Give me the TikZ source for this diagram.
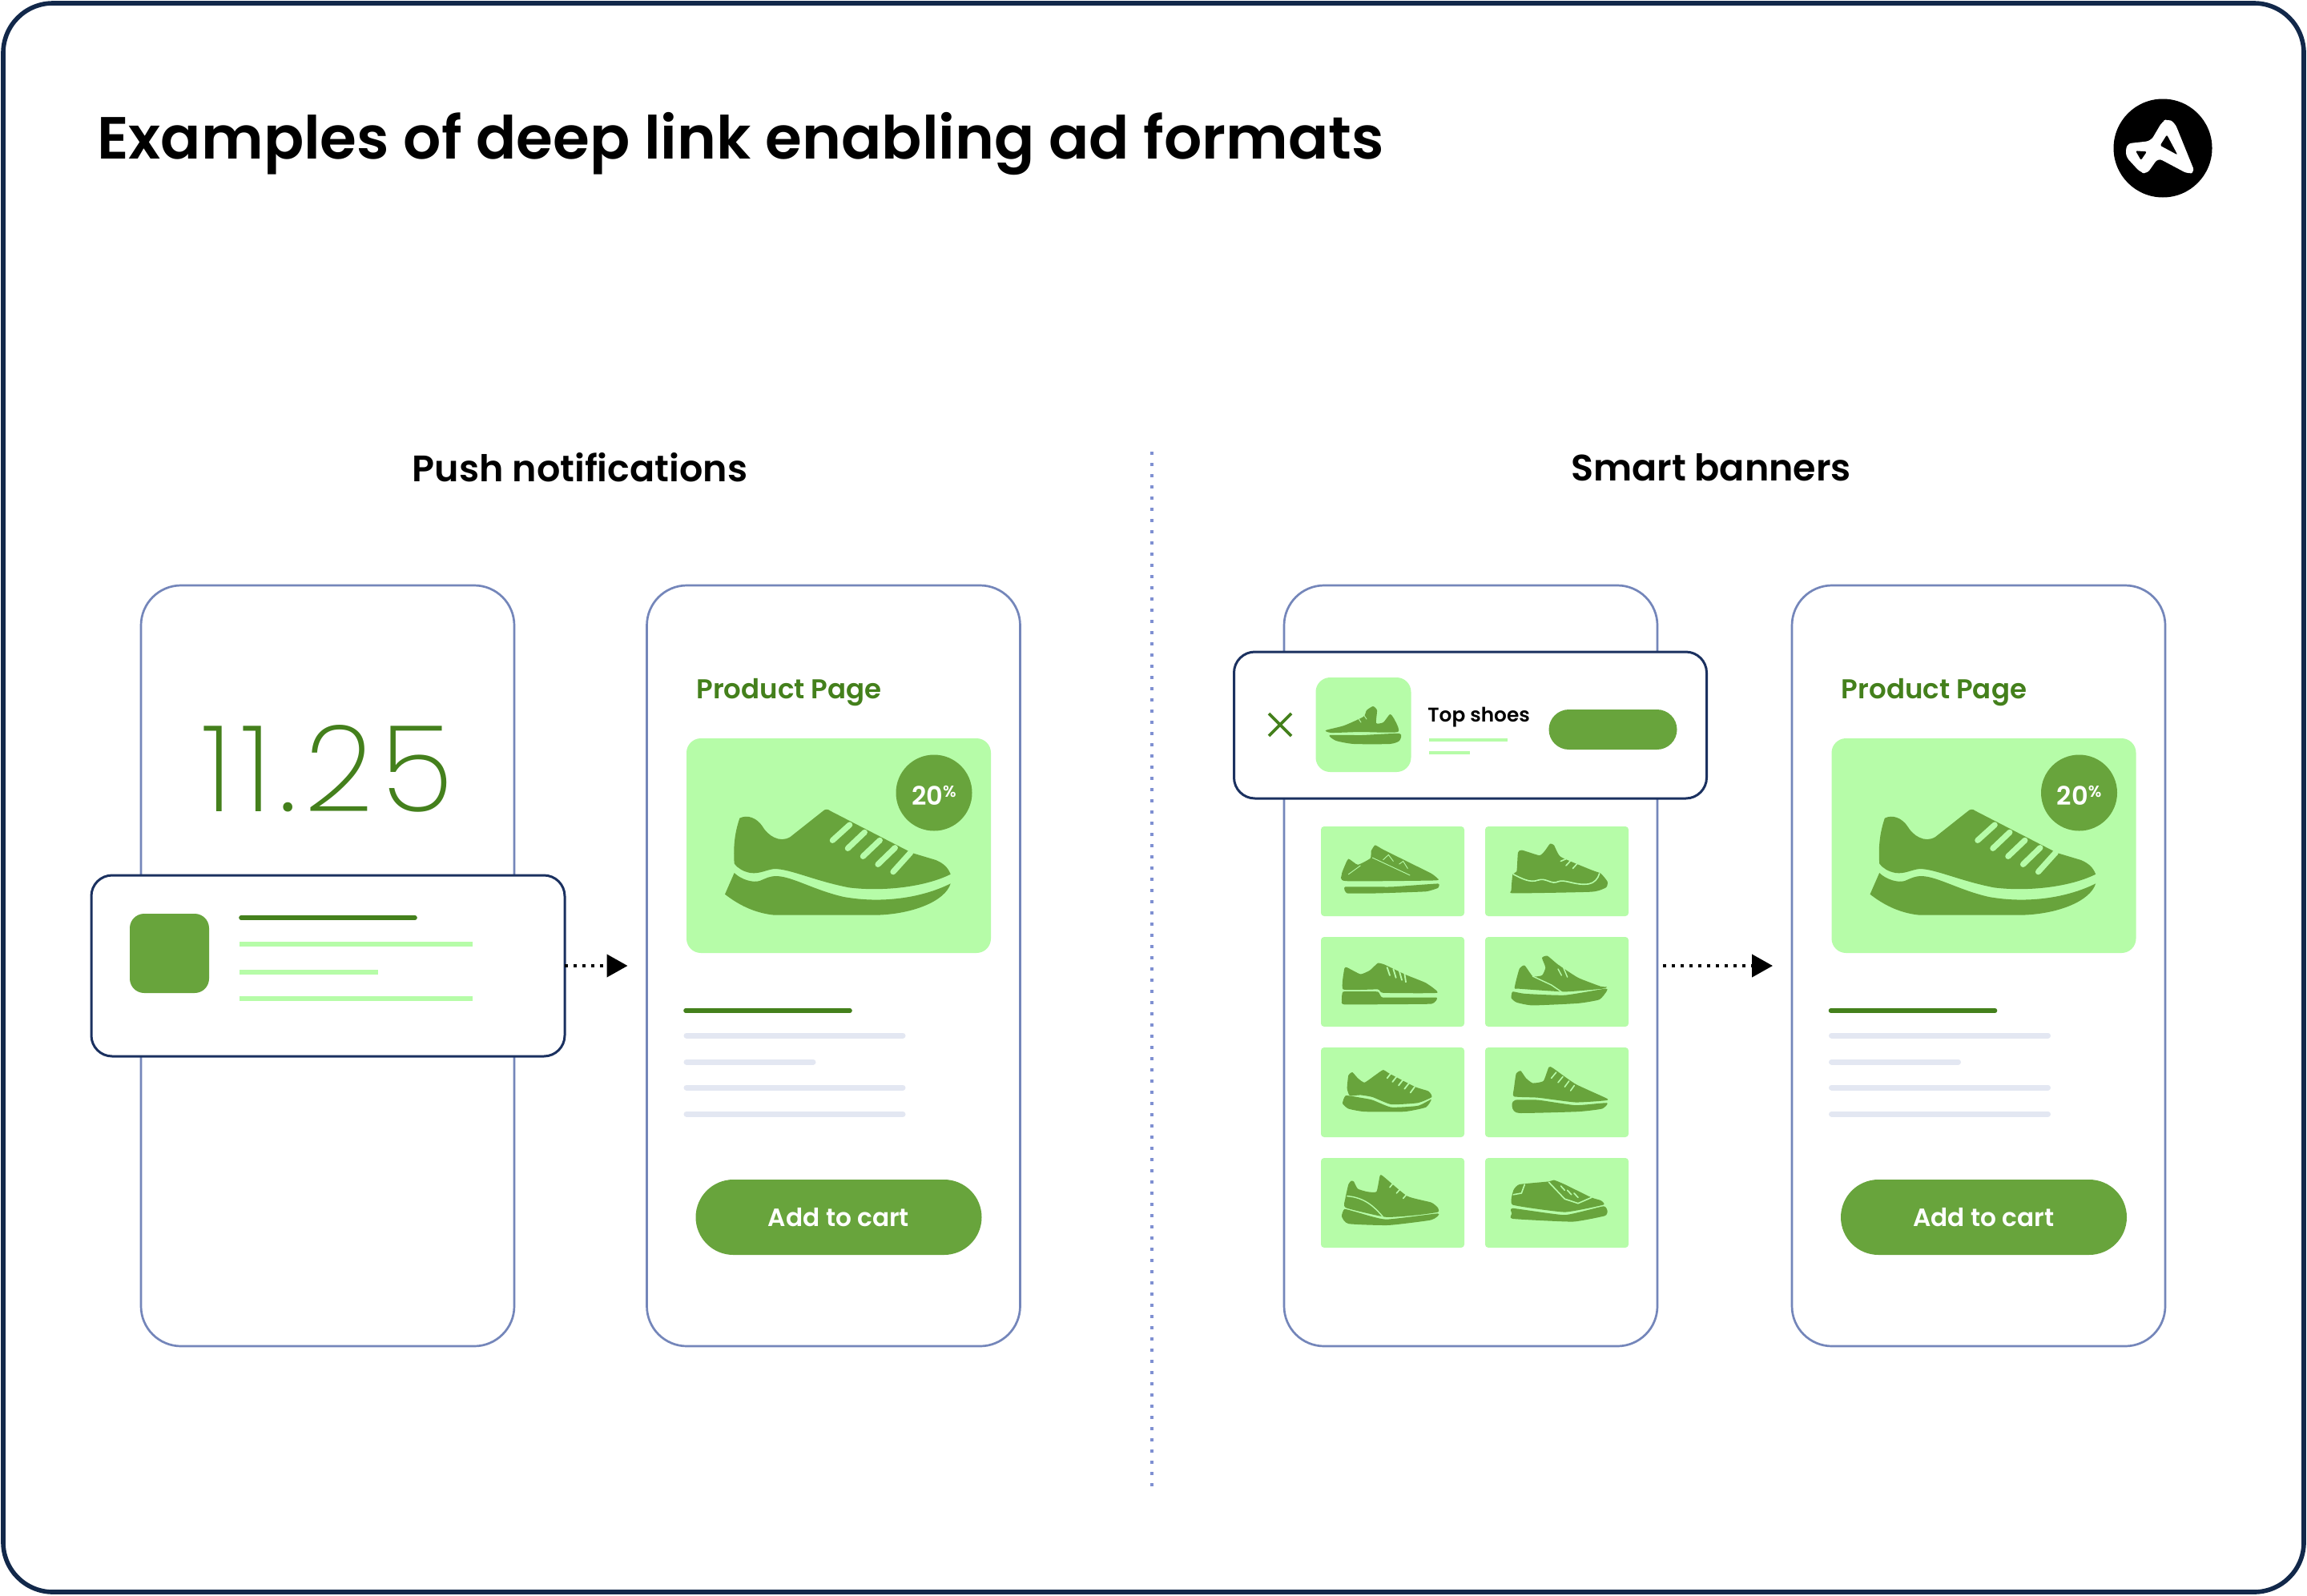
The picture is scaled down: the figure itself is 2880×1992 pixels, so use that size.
\documentclass[tikz,border=0pt]{standalone}
\usepackage{fontspec}
\usetikzlibrary{arrows.meta}
\setmainfont{Poppins}[UprightFont=* Medium,BoldFont=* SemiBold]
\newfontfamily\thinfont{Poppins}[UprightFont=* ExtraLight,LetterSpace=6.4]
\definecolor{shoegreen}{HTML}{68A43C}
\definecolor{lightgreen}{HTML}{B6FCA8}
\definecolor{darkgreen}{HTML}{44801C}
\definecolor{phoneblue}{HTML}{7486BA}
\definecolor{navy}{HTML}{1B3160}
\definecolor{framenavy}{HTML}{12284A}
\definecolor{greyline}{HTML}{E3E7F2}
\definecolor{divblue}{HTML}{7F90D2}
\tikzset{
 phonebox/.style={draw=phoneblue,line width=1.35pt,fill=white,rounded corners=25pt,minimum width=233pt,minimum height=475pt,inner sep=0,outer sep=0},
 cardbox/.style={draw=navy,line width=1.5pt,fill=white,rounded corners=13pt,inner sep=0,outer sep=0},
 imgbox/.style={fill=lightgreen,rounded corners=9pt,minimum width=190pt,minimum height=134pt,inner sep=0,outer sep=0},
 tilebox/.style={fill=lightgreen,rounded corners=2pt,minimum width=89.5pt,minimum height=56pt,inner sep=0,outer sep=0},
 shoe/.style={fill=shoegreen},
 lace/.style={draw=lightgreen,line width=1.3pt,line cap=round},
 lacefine/.style={draw=lightgreen,line width=.45pt,line cap=round},
 darkbar/.style={draw=darkgreen,line width=2.8pt,line cap=round},
 lightbar/.style={draw=lightgreen,line width=2.7pt},
 greybar/.style={draw=greyline,line width=3.5pt,line cap=round},
 cta/.style={fill=shoegreen,rounded corners=23.5pt,minimum width=178.5pt,minimum height=47pt,inner sep=0,outer sep=0,text=white,font=\bfseries\fontsize{15.6}{18}\selectfont},
 heading/.style={font=\bfseries\fontsize{23}{26}\selectfont,text=black,inner sep=0},
 pagehead/.style={font=\bfseries\fontsize{17}{20}\selectfont,text=darkgreen,anchor=base west,inner sep=0},
 flow/.style={draw=black,line width=2pt,dash pattern=on 2pt off 3.5pt,-{Triangle[length=13pt,width=14pt,fill=black]}},
}
\newcommand{\bigshoe}{%
 \fill[shoe] (370,905) .. controls (400,890) and (435,905) .. (455,935) .. controls (475,970) and (520,1000) .. (560,975)
  -- (680,880) .. controls (690,870) and (700,870) .. (710,878) -- (1015,1035) -- (1105,1062) .. controls (1135,1075) and (1150,1090) .. (1160,1115)
  .. controls (1060,1165) and (900,1180) .. (780,1165) .. controls (650,1140) and (560,1095) .. (500,1095) .. controls (470,1098) and (445,1115) .. (410,1110) .. controls (385,1105) and (365,1095) .. (350,1075)
  .. controls (345,1000) and (355,950) .. (370,905) -- cycle;
 \fill[shoe] (350,1110) .. controls (375,1135) and (420,1148) .. (445,1140) .. controls (470,1130) and (480,1122) .. (510,1122) .. controls (570,1125) and (650,1175) .. (760,1200) .. controls (900,1225) and (1050,1205) .. (1160,1150)
  .. controls (1140,1215) and (1020,1265) .. (880,1268) -- (500,1268) .. controls (420,1260) and (360,1225) .. (315,1190) -- cycle;
 \foreach \a/\b/\c/\d in {718/988/782/930,775/1018/838/958,832/1048/895/988,888/1078/952/1016,945/1106/1010/1034}
  \draw[lace,line width=3.6pt] (\a,\b) -- (\c,\d);
}
\begin{document}
\begin{tikzpicture}[x=0.5pt,y=-0.5pt]
\useasboundingbox (0,0) rectangle (2880,1992);
\fill[white] (0,0) rectangle (2880,1992);
\draw[framenavy,line width=2.8pt,rounded corners=31pt] (4,4) rectangle (2876,1988);
\node[anchor=base west,inner sep=0,font=\bfseries\fontsize{37.1}{42}\selectfont] (title) at (121,198) {Examples of deep link enabling ad formats};
% logo
\fill[black] (2700,185) circle[radius=61.5];
\begin{scope}[shift={(2600,100)},x=0.16667pt,y=-0.16667pt]
 \fill[white,rounded corners=3pt] (318,145) -- (345,160) -- (420,345) -- (395,352) -- (282,292) -- (240,352) -- (215,345) -- (160,285) -- (165,238) -- (255,228) -- (298,155) -- cycle;
 \fill[black,rounded corners=1pt] (315,205) -- (355,280) -- (290,245) -- cycle;
 \fill[black,rounded corners=1pt] (198,265) -- (240,268) -- (218,300) -- cycle;
\end{scope}
% headings
\node[heading] (h1) at (724,584) {Push notifications};
\node[heading] (h2) at (2136,584) {Smart banners};
\draw[divblue,line width=2.2pt,dash pattern=on 2.2pt off 4.8pt] (1438,564) -- (1438,1856);
% phones
\node[phonebox] (p1) at (409,1206) {};
\node[phonebox] (p2) at (1040.5,1206) {};
\node[phonebox] (p3) at (1836,1206) {};
\node[phonebox] (p4) at (2470,1206) {};
\node[inner sep=0,text=darkgreen,font=\thinfont\fontsize{75}{90}\selectfont] (clock) at (409,960) {11.25};
% notification
\node[cardbox,minimum width=295.5pt,minimum height=113pt] (notif) at (409.5,1206) {};
\node[fill=shoegreen,rounded corners=9pt,minimum width=49.5pt,minimum height=49.5pt,inner sep=0] (nicon) at (211.5,1190.5) {};
\draw[darkbar] (301,1146) -- (518,1146);
\draw[lightbar] (299,1179) -- (590,1179);
\draw[lightbar] (299,1214) -- (472,1214);
\draw[lightbar] (299,1247) -- (590,1247);
\draw[flow,shorten >=12pt] (notif) -- (p2);
\draw[flow,shorten >=12pt,shorten <=3.5pt] (p3) -- (p4);
% product pages
\foreach \dx/\pn in {0/a,1429.5/b}{
\begin{scope}[shift={(\dx,0)}]
 \node[pagehead] (page\pn) at (869,872) {Product Page};
 \node[imgbox] (img\pn) at (1047,1056) {};
 \begin{scope}[shift={(800,720)},x=0.16667pt,y=-0.16667pt]
  \bigshoe
 \end{scope}
 \node[circle,fill=shoegreen,minimum size=47.5pt,inner sep=0] (badge\pn) at (1166,990) {};
 \node[text=white,inner sep=0,font=\bfseries\fontsize{16}{18}\selectfont] (pct\pn) at (1166,993) {20\raisebox{5pt}{\fontsize{10}{10}\selectfont\%}};
 \draw[darkbar] (856,1262) -- (1061,1262);
 \draw[greybar] (857,1293) -- (1127,1293);
 \draw[greybar] (857,1326) -- (1015,1326);
 \draw[greybar] (857,1358) -- (1127,1358);
 \draw[greybar] (857,1391) -- (1127,1391);
 \node[cta] (cta\pn) at (1047,1520) {Add to cart};
\end{scope}}
% banner
\node[cardbox,minimum width=295pt,minimum height=91.5pt] (banner) at (1835.5,905.5) {};
\draw[darkgreen,line width=1.8pt] (1584,891) -- (1612,919) (1584,919) -- (1612,891);
\node[fill=lightgreen,rounded corners=9pt,minimum width=59.5pt,minimum height=59pt,inner sep=0] (bicon) at (1702,905) {};
\fill[shoe] plot[smooth cycle,tension=.35] coordinates {(1655,912)(1678,906)(1702,895)(1706,887)(1714,882)(1719,887)(1718,903)(1727,902)(1735,892)(1740,897)(1745,914)(1698,914)(1662,915)};
\fill[shoe] plot[smooth cycle,tension=.35] coordinates {(1660,918)(1700,918)(1747,916)(1747,925)(1735,929)(1690,929)(1668,925)};
\draw[lacefine] (1695,896)--(1699,902) (1702,892)--(1706,898);
\node[anchor=west,inner sep=0,font=\bfseries\fontsize{12.4}{14}\selectfont] (tops) at (1782,896) {Top shoes};
\draw[lightbar,line width=2.4pt] (1784,924) -- (1882,924);
\draw[lightbar,line width=2.4pt] (1784,940) -- (1835,940);
\node[fill=shoegreen,rounded corners=12.5pt,minimum width=80pt,minimum height=25pt,inner sep=0] (bbtn) at (2013.5,911) {};
% tile grid
\node[tilebox] (t11) at (1738.5,1088) {};
\node[tilebox] (t12) at (1943.5,1088) {};
\node[tilebox] (t21) at (1738.5,1226) {};
\node[tilebox] (t22) at (1943.5,1226) {};
\node[tilebox] (t31) at (1738.5,1364) {};
\node[tilebox] (t32) at (1943.5,1364) {};
\node[tilebox] (t41) at (1738.5,1502) {};
\node[tilebox] (t42) at (1943.5,1502) {};
\begin{scope}[shift={(1620,1010)},x=0.16667pt,y=-0.1818pt]
 % 1,1
 \fill[shoe] plot[smooth cycle,tension=.3] coordinates {(172,205)(190,172)(225,192)(272,170)(275,145)(290,125)(320,140)(430,190)(500,222)(522,238)(512,246)(180,248)(165,225)};
 \fill[shoe] plot[smooth cycle,tension=.2] coordinates {(178,268)(350,268)(525,257)(525,272)(480,284)(300,290)(185,290)};
 \draw[lacefine] (280,168)--(420,228) (190,225)--(235,195) (320,175)--(340,158)--(358,180) (380,190)--(395,180)--(412,205);
 % 1,2
 \fill[shoe] plot[smooth cycle,tension=.3] coordinates {(825,150)(840,142)(905,160)(925,145)(945,120)(960,125)(985,165)(1100,210)(1135,222)(1160,250)(1155,270)(1100,285)(810,290)(800,280)(805,225)(820,215)};
 \draw[lacefine,line width=.8pt] (808,225)..controls (840,240) and (870,255) .. (900,245) .. controls (930,235) and (950,262) .. (975,250) .. controls (1000,240) and (1040,265) .. (1090,258) .. controls (1110,255) and (1125,240) .. (1130,222);
 \draw[lacefine,line width=.8pt] (985,180)--(1005,172) (1005,195)--(1025,175) (1030,205)--(1050,185);
 % 2,1
 \fill[shoe] plot[smooth cycle,tension=.25] coordinates {(175,548)(185,545)(235,568)(270,555)(300,530)(325,535)(405,570)(480,598)(522,632)(320,632)(300,620)(170,620)};
 \fill[shoe] plot[smooth cycle,tension=.15] coordinates {(170,628)(300,628)(318,648)(520,648)(500,670)(175,672)(165,660)};
 \draw[lacefine,line width=.9pt] (335,545)--(345,572) (358,550)--(368,580) (380,555)--(390,588) (400,565)--(405,595);
 % 2,2
 \fill[shoe] plot[smooth cycle,tension=.3] coordinates {(812,615)(830,550)(850,538)(880,575)(915,572)(928,545)(915,512)(935,505)(975,535)(1050,580)(1135,610)(1158,612)(1140,618)(1000,628)(830,618)};
 \fill[shoe] plot[smooth cycle,tension=.3] coordinates {(805,628)(850,635)(1000,640)(1150,618)(1158,625)(1130,655)(1050,668)(880,675)(820,665)(800,650)};
 \draw[lacefine,line width=.7pt] (880,575)--(950,605)--(990,630) (975,550)--(988,572) (995,545)--(1010,578);
 % 3,1
 \fill[shoe] plot[smooth cycle,tension=.3] coordinates {(190,915)(205,905)(225,925)(250,940)(290,915)(320,897)(345,910)(440,955)(490,970)(502,990)(450,1010)(350,1015)(280,990)(235,983)(195,985)(185,960)};
 \fill[shoe] plot[smooth cycle,tension=.3] coordinates {(180,985)(235,992)(280,1000)(350,1025)(450,1020)(500,998)(480,1025)(400,1040)(250,1040)(190,1030)(168,1012)};
 \draw[lacefine,line width=.9pt] (335,925)--(352,905) (355,938)--(372,918) (378,950)--(395,930) (400,962)--(417,942) (422,975)--(438,955);
 % 3,2
 \fill[shoe] plot[smooth cycle,tension=.3] coordinates {(810,960)(818,910)(835,900)(855,925)(880,942)(920,935)(940,888)(955,890)(1040,945)(1158,995)(1150,1002)(1040,1008)(900,992)(810,988)};
 \fill[shoe] plot[smooth cycle,tension=.3] coordinates {(815,1000)(900,1000)(1040,1018)(1158,1010)(1140,1030)(1050,1040)(830,1045)(805,1030)(803,1012)};
 \draw[lacefine,line width=.8pt] (950,925)--(968,905) (975,940)--(993,920) (1000,955)--(1016,935) (1022,968)--(1036,950);
 % 4,1
 \fill[shoe] plot[smooth cycle,tension=.3] coordinates {(190,1290)(200,1278)(210,1280)(225,1305)(260,1315)(295,1315)(308,1260)(320,1262)(410,1330)(500,1352)(525,1370)(525,1385)(450,1395)(330,1402)(180,1370)(178,1340)};
 \fill[shoe] plot[smooth cycle,tension=.3] coordinates {(175,1375)(220,1385)(330,1410)(525,1390)(500,1412)(340,1430)(190,1425)(165,1400)};
 \draw[lacefine,line width=.7pt] (185,1330)..controls (250,1335) and (285,1365) .. (318,1400);
 \draw[lacefine,line width=.8pt] (345,1300)--(358,1285) (370,1320)--(385,1305) (395,1338)--(410,1322);
 % 4,2
 \fill[shoe] plot[smooth cycle,tension=.25] coordinates {(808,1310)(830,1290)(940,1280)(960,1275)(1000,1290)(1100,1335)(1135,1345)(1145,1360)(1000,1385)(805,1360)};
 \fill[shoe] plot[smooth cycle,tension=.25] coordinates {(805,1372)(1000,1395)(1145,1365)(1160,1382)(1150,1398)(1030,1418)(805,1408)(802,1390)};
 \draw[lacefine,line width=.8pt] (940,1282)--(1000,1340)--(1050,1355)--(1100,1335) (850,1290)--(838,1320)--(808,1325) (985,1295)--(1000,1310) (1010,1310)--(1025,1325) (1035,1320)--(1050,1335);
\end{scope}
\end{tikzpicture}
\end{document}
